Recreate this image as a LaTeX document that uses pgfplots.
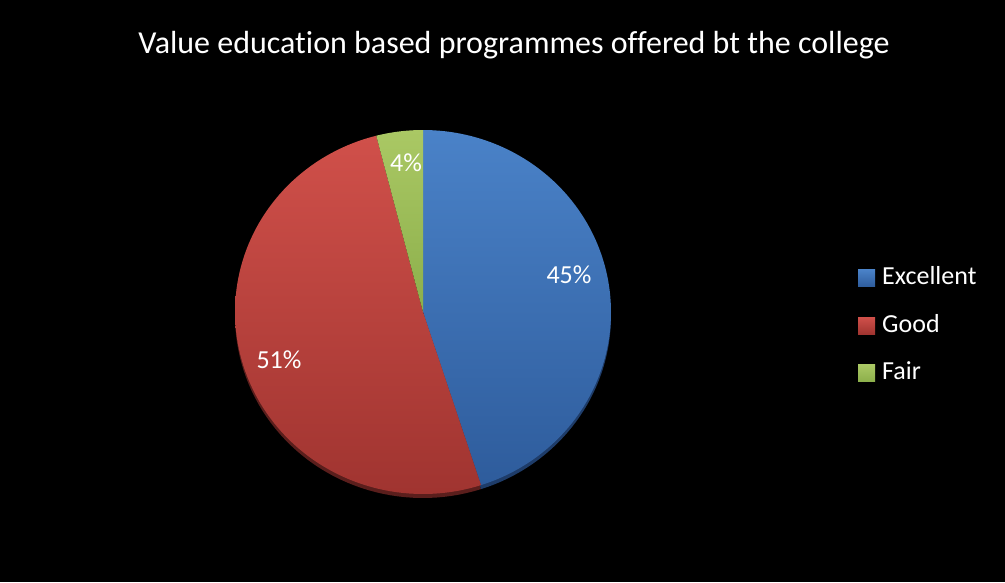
\documentclass[border=0pt]{standalone}
\usepackage{pgfplots}
\usepackage{pgfplotstable}
\pgfplotsset{compat=1.18}
\usepackage{fontspec}
\setmainfont{Carlito}[Ligatures=NoCommon]
\definecolor{bluetop}{RGB}{74,130,200}
\definecolor{bluebot}{RGB}{46,92,156}
\definecolor{redtop}{RGB}{208,80,74}
\definecolor{redbot}{RGB}{160,52,48}
\definecolor{greentop}{RGB}{170,200,100}
\definecolor{greenbot}{RGB}{140,175,75}
\pgfplotstableread{
label value
Excellent 45
Good 51
Fair 4
}\piedata
\begin{document}
\begin{tikzpicture}
\fill[black] (0,0) rectangle (1005pt,582pt);
\pgfplotstablegetelem{0}{value}\of\piedata \let\vA\pgfplotsretval
\pgfplotstablegetelem{1}{value}\of\piedata \let\vB\pgfplotsretval
\pgfplotstablegetelem{2}{value}\of\piedata \let\vC\pgfplotsretval
\pgfmathsetmacro{\aZ}{90}
\pgfmathsetmacro{\aA}{\aZ-3.6*\vA}
\pgfmathsetmacro{\aB}{\aA-3.6*\vB}
\pgfmathsetmacro{\aC}{\aB-3.6*\vC}
\begin{axis}[
  at={(0,0)}, anchor=south west,
  width=1005pt, height=582pt, scale only axis,
  xmin=0, xmax=1005, ymin=0, ymax=582, y dir=reverse,
  hide axis, clip=false,
  legend style={at={(axis cs:858,266.5)}, anchor=north west, draw=none, fill=none,
    text=white, font=\fontsize{26}{30}\selectfont, row sep=24.5pt, inner sep=0pt,
    nodes={inner sep=0pt, text height=18pt, text depth=5pt}, column sep=7pt},
  legend cell align=left,
  legend image code/.code={\fill[#1] (0pt,-8.5pt) rectangle (17pt,8.5pt);},
]
% rim / shadow
\addplot[draw=none, fill={rgb,255:red,90;green,30;blue,28}, domain=-255.6:-72, samples=80, variable=\t, forget plot]
  ({423+188*cos(t)}, {316-182*sin(t)}) -- (axis cs:423,316) -- cycle;
\addplot[draw=none, fill={rgb,255:red,30;green,60;blue,105}, domain=-72:0, samples=60, variable=\t, forget plot]
  ({423+188*cos(t)}, {316-182*sin(t)}) -- (axis cs:423,316) -- cycle;
\addplot[draw=none, top color=bluetop, bottom color=bluebot, domain=\aA:\aZ, samples=100, variable=\t]
  ({423+188*cos(t)}, {312-182*sin(t)}) -- (axis cs:423,312) -- cycle;
\addlegendentry{Excellent}
\addplot[draw=none, top color=redtop, bottom color=redbot, domain=\aB:\aA, samples=100, variable=\t]
  ({423+188*cos(t)}, {312-182*sin(t)}) -- (axis cs:423,312) -- cycle;
\addlegendentry{Good}
\addplot[draw=none, top color=greentop, bottom color=greenbot, domain=\aC:\aB, samples=20, variable=\t]
  ({423+188*cos(t)}, {312-182*sin(t)}) -- (axis cs:423,312) -- cycle;
\addlegendentry{Fair}
\node[text=white, font=\fontsize{32}{38}\selectfont] at (axis cs:514,45) {Value education based programmes offered bt the college};
\node[text=white, font=\fontsize{26}{30}\selectfont] at (axis cs:569,275) {45\%};
\node[text=white, font=\fontsize{26}{30}\selectfont] at (axis cs:279,360) {51\%};
\node[text=white, font=\fontsize{26}{30}\selectfont] at (axis cs:406,163) {4\%};
\end{axis}
\end{tikzpicture}
\end{document}
